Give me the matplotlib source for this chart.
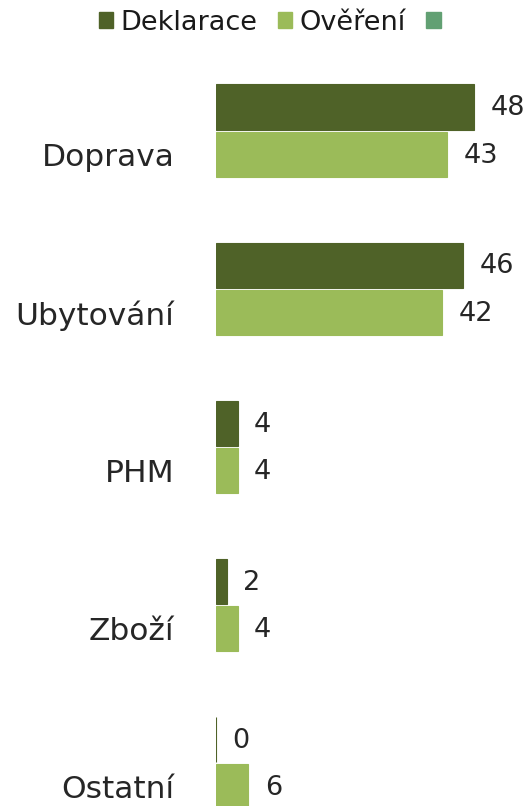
import numpy as np
import matplotlib.pyplot as plt
from matplotlib.patches import Patch

categories = ['Doprava', 'Ubytování', 'PHM', 'Zboží', 'Ostatní']
deklarace = [48, 46, 4, 2, 0]
overeni = [43, 42, 4, 4, 6]
series_names = ['Deklarace', 'Ověření', '']
colors = ['#4F6228', '#9BBB59', '#62A073']

plt.rcParams['font.family'] = 'DejaVu Sans'
fig = plt.figure(figsize=(5.29, 8.06), dpi=100)
ax = fig.add_axes([216 / 529, 0, 313 / 529, 746 / 806])

y = np.arange(len(categories))
h = 0.3
b1 = ax.barh(y - h, deklarace, height=h - 0.014, color=colors[0],
             edgecolor=colors[0], linewidth=0.8)
b2 = ax.barh(y, overeni, height=h - 0.014, color=colors[1],
             edgecolor=colors[1], linewidth=0.8)

for bars, vals in [(b1, deklarace), (b2, overeni)]:
    for rect, v in zip(bars, vals):
        ax.annotate(str(v), (v, rect.get_y() + rect.get_height() / 2),
                    xytext=(12, -1), textcoords='offset points',
                    ha='left', va='center', fontsize=19.5, color='#262626')

ax.set_xlim(0, 58.2)
ax.set_ylim(4.123, -0.598)
ax.set_yticks(y)
ax.set_yticklabels(categories, fontsize=22.5, color='#262626')
ax.tick_params(axis='y', length=0, pad=30)
ax.set_xticks([])
for s in ax.spines.values():
    s.set_visible(False)

handles = [Patch(facecolor=c, edgecolor=c) for c in colors]
fig.legend(handles, series_names, loc='upper center', ncol=3,
           bbox_to_anchor=(273 / 529, 1.018), frameon=False, fontsize=19.5,
           handlelength=0.55, handleheight=0.55, handletextpad=0.25,
           columnspacing=0.75, labelcolor='#1a1a1a')

fig.savefig('out.png', dpi=100)
